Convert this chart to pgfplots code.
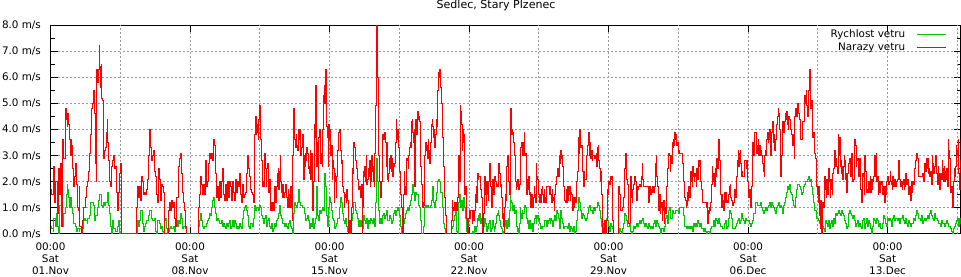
\documentclass[border=0pt]{standalone}
\usepackage{fontspec}
\setmainfont{DejaVu Sans}
\usepackage{pgfplots}
\pgfplotsset{compat=1.18}
\usepackage{pgfplotstable}
\definecolor{wgreen}{RGB}{0,200,0}
\definecolor{wred}{RGB}{255,0,0}

% x in chart units: 59.79 units = 1 day, 7.5 = Sat 01.Nov 00:00
\pgfplotstableread{
X v
8 1.7
12 1.5
16 2.6
20 1.2
24 2.0
28 0.8
32 2.5
36 1.5
38 2.7
42 0.3
45 3.6
48 2.9
52 4.8
55 4.4
58 4.1
60 4.6
63 4.2
66 3.6
68 3.0
70 3.6
72 3.4
75 2.5
78 1.8
80 2.2
84 2.7
86 1.9
88 1.0
92 0.9
94 1.8
96 0.3
100 0.0
104 0.5
108 1.0
112 1.4
115 1.8
118 2.0
122 2.4
124 3.1
127 3.8
130 3.9
132 4.8
134 5.0
137 5.5
140 4.6
142 2.7
145 2.0
147 6.3
150 5.8
152 6.3
154 7.2
156 6.4
158 5.6
160 6.5
162 5.2
164 5.1
166 3.6
168 2.9
170 3.2
172 3.3
175 3.9
178 4.4
180 3.5
182 2.8
185 2.0
188 1.8
190 2.6
193 2.8
196 3.0
200 2.5
203 2.6
206 1.6
209 0.9
212 1.6
215 2.3
218 2.7
220 0.0
262 0.0
266 1.0
268 1.8
271 1.4
274 1.8
277 1.3
280 2.2
283 2.0
286 1.5
289 1.6
292 1.5
296 1.7
298 2.1
300 3.0
304 4.0
306 3.3
309 2.8
312 3.0
315 3.2
318 2.4
321 2.2
324 1.5
327 1.2
330 2.5
333 2.1
336 1.3
339 1.9
342 1.8
345 1.6
348 0.4
350 0.0
358 0.0
361 0.9
364 1.2
367 0.9
370 1.3
373 1.0
376 1.2
379 0.6
382 0.3
385 1.4
388 1.4
391 2.6
394 2.9
397 3.1
400 2.3
403 1.6
406 1.2
409 0.9
412 0.3
414 0.0
448 0.0
450 1.0
453 1.5
456 2.2
459 1.9
462 1.5
465 1.9
468 1.5
471 2.8
474 1.8
477 2.0
480 2.7
483 3.1
486 2.9
489 3.1
492 2.8
495 3.6
498 3.4
501 2.3
504 1.4
507 1.8
510 1.3
513 2.0
516 1.4
519 2.0
522 2.5
525 1.5
528 1.3
531 1.9
534 1.3
537 2.0
540 1.4
543 2.0
546 1.8
549 1.3
552 2.0
555 1.6
558 1.3
561 2.1
564 1.6
567 2.0
570 1.8
573 2.3
576 1.5
579 1.2
582 1.9
585 1.4
588 1.5
591 1.6
594 2.3
597 3.0
600 2.5
603 2.2
606 1.7
609 1.6
612 1.5
615 1.2
618 2.2
620 3.8
622 4.5
624 3.8
626 4.2
628 3.9
630 3.6
632 4.4
634 4.9
636 4.5
638 3.6
640 2.8
642 1.8
644 2.0
646 1.8
648 3.0
650 3.1
652 2.5
654 1.8
656 2.5
658 2.7
660 2.2
662 1.6
664 2.1
666 1.5
668 0.9
670 1.2
672 0.9
674 1.2
676 0.9
678 1.5
680 1.8
682 1.2
684 1.6
686 1.8
688 2.3
690 2.5
692 1.7
694 2.4
696 3.0
698 2.0
700 1.6
702 1.4
704 1.9
706 1.4
708 1.5
710 1.6
712 1.9
714 1.7
716 1.4
718 1.0
720 1.7
722 1.5
724 1.0
726 1.7
728 1.8
730 1.0
732 0.5
734 3.0
736 4.8
738 4.3
740 3.6
742 3.3
744 3.8
746 3.4
748 3.2
750 4.0
752 3.6
754 4.0
756 3.8
758 3.0
760 3.3
762 3.5
764 3.8
766 2.1
768 3.0
770 2.6
772 3.1
774 2.8
776 3.3
778 3.1
780 2.5
782 2.6
784 2.3
786 3.2
788 2.1
790 3.1
792 1.7
794 0.9
796 2.0
798 4.2
800 3.7
802 5.7
804 4.0
806 2.6
808 3.5
810 2.0
812 3.7
814 4.0
816 3.3
818 2.7
820 3.1
822 2.6
824 4.0
826 5.3
828 5.7
830 5.0
832 6.3
834 5.2
836 4.1
838 3.7
840 2.6
842 4.2
844 3.6
846 4.0
848 3.0
850 3.4
852 2.1
854 2.8
856 2.5
858 1.2
860 2.3
862 2.0
864 1.4
866 2.2
868 3.2
870 3.7
872 3.9
874 4.0
876 3.6
878 3.2
880 2.7
882 2.8
884 1.8
886 1.6
888 1.0
890 1.5
892 1.4
894 1.2
896 1.7
898 1.3
900 0.3
902 0.0
904 0.5
906 0.2
908 0.0
910 1.0
912 2.5
914 2.3
916 3.5
918 3.3
921 2.8
924 2.5
927 2.1
930 1.7
933 1.8
936 1.4
939 1.9
942 0.0
944 1.0
946 2.4
948 2.2
950 2.6
952 2.0
954 3.0
956 1.9
958 2.1
960 2.5
962 2.2
964 2.8
966 1.8
968 2.0
970 3.0
972 2.4
974 2.6
976 2.0
978 1.8
980 3.1
982 4.9
984 6.6
986 8.0
988 6.0
990 5.0
992 3.0
994 2.0
996 1.7
998 1.4
1000 2.0
1002 3.5
1004 3.8
1006 3.6
1008 3.9
1010 3.9
1012 3.5
1014 2.6
1016 3.5
1018 2.1
1020 2.0
1022 2.3
1024 2.9
1026 2.5
1028 3.0
1030 2.4
1032 2.9
1034 2.2
1036 2.7
1038 2.6
1040 2.7
1042 3.5
1044 4.4
1046 3.6
1048 4.0
1050 3.8
1052 3.3
1054 2.4
1056 2.0
1058 1.5
1060 1.0
1062 0.9
1064 0.0
1066 1.5
1068 2.4
1070 1.8
1072 1.5
1074 2.5
1076 2.9
1078 2.8
1080 2.5
1082 3.0
1084 3.3
1086 3.5
1088 3.3
1090 4.3
1092 4.4
1094 3.9
1096 3.5
1098 4.0
1100 1.8
1102 4.4
1104 4.0
1106 3.8
1108 4.7
1110 4.4
1112 4.5
1114 4.3
1116 3.0
1118 2.6
1120 1.9
1122 1.5
1124 1.0
1126 1.2
1128 1.1
1130 3.0
1132 3.5
1134 3.2
1136 3.4
1138 2.9
1140 3.6
1142 3.2
1144 2.7
1146 2.9
1148 3.5
1150 4.2
1152 4.4
1154 4.1
1156 3.7
1158 4.0
1160 3.3
1162 3.8
1164 4.4
1166 4.1
1168 5.5
1170 6.2
1172 6.0
1174 6.3
1176 6.1
1178 5.6
1180 5.0
1182 4.4
1184 3.7
1186 2.6
1188 2.0
1190 1.4
1192 0.7
1194 0.3
1196 0.0
1208 0.0
1210 0.5
1212 1.3
1214 1.0
1216 0.9
1218 1.2
1220 0.9
1222 1.2
1224 1.2
1226 0.9
1228 1.4
1230 2.3
1232 3.0
1234 2.0
1236 4.9
1238 4.7
1240 4.2
1242 3.2
1244 4.0
1246 3.5
1248 3.8
1250 1.5
1252 1.8
1254 0.8
1256 0.6
1258 0.0
1260 0.2
1262 0.6
1264 0.9
1266 0.6
1268 0.9
1270 0.9
1272 0.4
1274 0.5
1276 0.9
1278 0.5
1280 0.9
1282 1.5
1284 1.8
1286 1.2
1288 2.3
1290 2.1
1292 2.2
1294 2.2
1296 2.2
1298 1.7
1300 1.4
1302 0.7
1304 0.0
1306 0.8
1308 1.5
1310 2.2
1312 1.5
1314 1.1
1316 2.0
1318 1.5
1320 1.3
1322 2.0
1324 2.7
1326 2.3
1328 1.8
1330 1.0
1332 1.5
1334 2.1
1336 1.5
1338 1.7
1340 2.2
1342 2.0
1344 1.8
1346 1.9
1348 1.8
1350 2.0
1352 2.7
1354 2.3
1356 1.8
1358 1.9
1360 1.4
1362 0.6
1364 0.8
1366 0.3
1368 0.0
1370 1.0
1372 1.5
1374 1.3
1376 2.6
1378 3.0
1380 2.4
1382 2.0
1384 1.5
1386 4.5
1388 4.8
1390 3.8
1392 4.0
1394 3.9
1396 3.5
1398 3.3
1400 3.0
1402 2.0
1404 1.7
1406 1.8
1408 2.1
1410 1.8
1412 1.7
1414 1.9
1416 3.0
1418 3.3
1420 3.5
1422 3.2
1424 3.0
1426 3.5
1428 3.9
1430 3.0
1432 3.1
1434 2.0
1436 1.5
1438 2.1
1440 1.7
1442 2.2
1444 1.5
1446 1.6
1448 1.0
1450 1.5
1452 1.3
1454 1.0
1456 1.4
1458 1.8
1460 1.5
1462 1.2
1464 2.7
1466 2.2
1468 2.1
1470 1.7
1472 1.5
1474 1.2
1476 1.5
1478 1.2
1480 1.7
1482 1.8
1484 1.5
1486 1.2
1488 1.7
1490 1.4
1492 1.2
1494 1.8
1496 1.8
1498 1.8
1500 1.8
1502 1.8
1504 1.5
1506 1.8
1508 1.5
1510 1.2
1512 1.7
1514 1.4
1516 1.3
1518 0.9
1520 1.5
1522 1.9
1524 2.2
1526 2.2
1528 2.5
1530 2.3
1532 2.2
1534 3.0
1536 2.7
1538 3.2
1540 2.9
1542 3.0
1544 2.6
1546 1.8
1548 1.5
1550 1.3
1552 1.2
1554 1.7
1556 1.2
1558 1.8
1560 1.3
1562 1.5
1564 1.8
1566 1.3
1568 1.6
1570 1.5
1572 1.0
1574 0.9
1576 1.4
1578 1.0
1580 1.4
1582 1.2
1584 1.7
1586 2.0
1588 2.4
1590 3.7
1592 3.1
1594 4.0
1596 3.5
1598 3.3
1600 3.4
1602 2.8
1604 2.4
1606 1.8
1608 2.4
1610 2.1
1612 2.1
1614 2.6
1616 3.0
1618 3.4
1620 3.7
1622 3.9
1624 3.0
1626 3.5
1628 2.9
1630 3.2
1632 2.8
1634 3.0
1636 3.0
1638 3.0
1640 2.9
1642 3.0
1644 3.1
1646 2.6
1648 3.3
1650 3.4
1652 2.8
1654 2.5
1656 2.0
1658 2.4
1660 1.5
1662 0.3
1664 0.0
1666 0.2
1668 0.0
1670 0.5
1672 0.0
1674 0.2
1676 0.5
1678 1.7
1680 1.5
1682 2.0
1684 1.9
1686 2.2
1688 2.1
1690 2.2
1692 1.5
1694 0.5
1696 0.0
1708 0.0
1710 0.4
1712 1.8
1714 1.5
1716 1.0
1718 0.9
1720 0.9
1722 0.9
1724 1.0
1726 1.4
1728 1.9
1730 2.5
1732 3.1
1734 2.7
1736 2.1
1738 1.9
1740 0.4
1742 0.4
1744 0.4
1746 1.4
1748 2.2
1750 1.4
1752 1.2
1754 1.7
1756 1.9
1758 2.1
1760 2.2
1762 2.0
1764 1.6
1766 1.3
1768 1.8
1770 1.7
1772 1.8
1774 1.9
1776 1.8
1778 1.8
1780 2.2
1782 2.7
1784 2.1
1786 1.8
1788 1.8
1790 1.8
1792 1.8
1794 1.8
1796 1.8
1798 1.8
1800 1.5
1802 1.2
1804 1.8
1806 1.6
1808 1.5
1810 1.7
1812 1.8
1814 1.6
1816 1.8
1818 1.6
1820 1.8
1822 2.7
1824 3.0
1826 2.2
1828 1.8
1830 1.2
1832 0.9
1834 1.5
1836 0.8
1838 1.0
1840 1.2
1842 0.5
1844 0.9
1846 1.3
1848 0.4
1850 1.0
1852 0.8
1854 1.5
1856 1.8
1858 2.5
1860 2.9
1862 3.1
1864 3.0
1866 2.4
1868 3.0
1870 2.7
1872 3.5
1874 3.3
1876 3.6
1878 3.4
1880 3.9
1882 3.6
1884 3.8
1886 3.4
1888 3.5
1890 3.1
1892 3.2
1894 3.1
1896 3.1
1898 3.1
1900 3.1
1902 3.0
1904 2.7
1906 2.0
1908 1.6
1910 1.4
1912 1.3
1914 1.0
1916 1.1
1918 1.6
1920 1.3
1922 1.8
1924 1.4
1926 1.7
1928 2.4
1930 2.0
1932 1.8
1934 2.6
1936 2.2
1938 2.0
1940 2.3
1942 2.2
1944 1.8
1946 2.5
1948 2.1
1950 2.8
1952 2.6
1954 2.8
1956 2.3
1958 2.0
1960 1.7
1962 1.2
1964 1.2
1966 1.2
1968 1.2
1970 1.2
1972 1.2
1974 1.0
1976 1.2
1978 0.4
1980 0.9
1982 0.8
1984 1.0
1986 0.9
1988 1.2
1990 1.9
1992 2.6
1994 2.0
1996 2.3
1998 2.2
2000 1.8
2002 2.5
2004 2.2
2006 2.9
2008 2.5
2010 3.1
2012 3.6
2014 2.8
2016 1.8
2018 1.5
2020 1.0
2022 1.5
2024 1.3
2026 0.9
2028 1.6
2030 1.2
2032 1.6
2034 1.3
2036 1.2
2038 1.3
2040 1.2
2042 1.5
2044 1.8
2046 1.9
2048 1.4
2050 1.3
2052 1.2
2054 1.1
2056 1.2
2058 1.6
2060 1.7
2062 1.4
2064 1.9
2066 2.2
2068 2.8
2070 3.2
2072 2.6
2074 3.1
2076 3.2
2078 2.7
2080 2.2
2082 2.4
2084 2.2
2086 2.2
2088 2.2
2090 2.8
2092 2.8
2094 2.5
2096 2.8
2098 2.0
2100 1.9
2102 1.4
2104 1.7
2106 1.3
2108 1.0
2110 1.8
2112 2.5
2114 3.5
2116 3.0
2118 3.5
2120 3.9
2122 3.9
2124 3.9
2126 3.1
2128 3.4
2130 3.6
2132 3.0
2134 3.4
2136 3.0
2138 3.2
2140 3.0
2142 2.7
2144 2.7
2146 2.4
2148 2.2
2150 3.0
2152 3.2
2154 3.0
2156 3.6
2158 3.9
2160 3.5
2162 3.6
2164 4.0
2166 3.3
2168 3.0
2170 3.9
2172 4.2
2174 4.3
2176 3.5
2178 3.8
2180 3.2
2182 3.6
2184 3.8
2186 4.2
2188 4.5
2190 4.8
2192 4.6
2194 4.0
2196 3.2
2198 2.2
2200 3.0
2202 3.7
2204 4.3
2206 3.9
2208 4.2
2210 4.3
2212 4.6
2214 4.4
2216 4.7
2218 4.2
2220 4.0
2222 4.5
2224 4.4
2226 4.4
2228 4.0
2230 3.8
2232 3.5
2234 3.4
2236 3.8
2238 2.9
2240 4.5
2242 4.8
2244 4.6
2246 4.5
2248 5.0
2250 4.8
2252 4.6
2254 4.4
2256 4.1
2258 3.6
2260 3.6
2262 3.9
2264 4.3
2266 4.3
2268 5.2
2270 5.3
2272 5.0
2274 5.5
2276 4.9
2278 4.5
2280 5.0
2282 5.5
2284 6.3
2286 5.5
2288 4.8
2290 5.1
2292 4.2
2294 3.7
2296 3.9
2298 3.4
2300 3.1
2302 2.9
2304 2.3
2306 1.8
2308 1.5
2310 1.2
2312 1.8
2314 0.7
2316 0.2
2318 1.3
2320 0.0
2322 0.8
2324 1.2
2326 1.0
2328 1.5
2330 2.2
2332 1.7
2334 1.4
2336 2.1
2338 1.5
2340 2.2
2342 2.5
2344 2.0
2346 1.4
2348 2.1
2350 1.7
2352 1.5
2354 2.3
2356 2.5
2358 2.8
2360 3.2
2362 2.6
2364 2.9
2366 2.6
2368 2.3
2370 3.8
2372 3.0
2374 3.7
2376 2.6
2378 2.8
2380 2.3
2382 2.6
2384 2.1
2386 2.6
2388 3.0
2390 2.8
2392 2.1
2394 2.3
2396 1.6
2398 2.3
2400 2.6
2402 2.7
2404 2.9
2406 2.5
2408 2.2
2410 3.1
2412 2.4
2414 2.0
2416 2.1
2418 2.3
2420 3.6
2422 3.4
2424 2.6
2426 2.8
2428 2.9
2430 2.5
2432 2.2
2434 2.9
2436 2.0
2438 1.7
2440 1.2
2442 1.7
2444 2.3
2446 2.2
2448 1.5
2450 3.0
2452 2.4
2454 2.0
2456 1.6
2458 1.7
2460 2.0
2462 1.6
2464 2.0
2466 2.2
2468 1.6
2470 2.1
2472 1.7
2474 2.0
2476 2.2
2478 2.7
2480 3.0
2482 2.2
2484 3.1
2486 2.0
2488 2.2
2490 1.5
2492 2.0
2494 1.6
2496 2.0
2498 1.9
2500 2.0
2502 2.0
2504 1.5
2506 1.8
2508 1.3
2510 1.2
2512 1.8
2514 1.5
2516 2.0
2518 2.2
2520 2.0
2522 1.9
2524 2.0
2526 2.4
2528 2.0
2530 1.9
2532 1.7
2534 2.2
2536 1.8
2538 1.9
2540 2.1
2542 1.8
2544 1.8
2546 2.0
2548 2.1
2550 2.2
2552 2.8
2554 2.1
2556 1.8
2558 1.8
2560 2.0
2562 1.7
2564 1.9
2566 2.1
2568 1.7
2570 1.8
2572 2.3
2574 2.1
2576 1.9
2578 2.1
2580 1.6
2582 1.5
2584 1.8
2586 1.6
2588 1.3
2590 2.0
2592 1.6
2594 2.0
2596 1.9
2598 2.2
2600 2.5
2602 2.8
2604 3.0
2606 3.1
2608 2.9
2610 2.5
2612 2.2
2614 2.2
2616 2.2
2618 2.2
2620 2.2
2622 2.2
2624 2.3
2626 2.0
2628 2.3
2630 2.7
2632 2.4
2634 2.9
2636 2.5
2638 2.9
2640 2.3
2642 2.5
2644 2.2
2646 2.3
2648 2.4
2650 1.9
2652 3.0
2654 2.7
2656 2.3
2658 2.4
2660 2.6
2662 3.0
2664 2.7
2666 2.3
2668 1.9
2670 2.6
2672 2.3
2674 1.7
2676 1.9
2678 2.3
2680 2.1
2682 2.8
2684 2.5
2686 2.0
2688 2.6
2690 2.0
2692 2.4
2694 2.1
2696 2.5
2698 1.8
2700 3.6
2702 3.2
2704 2.9
2706 2.1
2708 1.6
2710 1.8
2712 1.2
2714 1.0
2716 2.0
2718 2.5
2720 2.2
2722 2.6
2724 3.4
2726 3.2
2728 3.0
2730 3.6
2732 2.3
2734 1.7
2736 2.8
2738 2.5
}\gusts

\pgfplotstableread{
X v
8 0.3
12 0.2
16 0.1
18 0.6
22 0.3
26 0.8
28 0.3
32 0.0
36 1.1
40 1.0
43 0.3
46 0.8
50 0.8
52 1.0
55 1.5
58 1.9
60 1.7
62 1.4
65 1.0
68 1.4
70 1.4
72 1.0
75 0.8
78 0.4
80 0.4
84 0.3
86 0.1
90 0.2
94 0.1
96 0.2
100 0.0
104 0.2
108 0.5
110 0.6
114 0.5
118 0.4
120 0.6
124 0.7
128 1.2
132 1.2
136 1.1
140 0.5
144 0.7
148 1.0
152 1.3
156 1.5
160 1.1
164 1.0
167 1.2
170 1.1
174 1.2
178 1.6
182 1.1
185 0.8
188 0.3
190 0.0
194 0.5
197 0.2
200 0.2
204 0.1
208 0.3
212 0.5
214 0.0
218 0.1
222 0.0
266 0.0
270 0.5
273 0.3
276 0.5
279 0.9
282 0.9
284 0.4
286 0.1
290 0.3
294 0.4
297 0.5
300 0.5
302 0.7
304 0.9
306 0.9
309 0.6
312 0.5
315 0.5
318 0.6
321 0.1
324 0.0
327 0.5
330 0.5
333 0.4
336 0.2
339 0.3
342 0.1
345 0.0
348 0.5
351 0.6
354 0.2
357 0.0
361 0.1
364 0.2
367 0.3
370 0.2
373 0.2
376 0.3
379 0.1
382 0.3
385 0.5
388 0.3
391 0.5
394 0.4
397 0.8
400 0.6
403 0.2
406 0.3
409 0.3
412 0.2
414 0.0
449 0.0
452 0.3
455 0.5
458 0.8
461 0.5
464 0.3
467 0.2
470 0.3
473 0.3
476 0.4
479 0.5
482 0.6
485 0.8
488 0.7
491 1.0
494 1.3
497 1.4
500 1.0
503 0.8
506 0.5
509 0.6
512 0.5
515 0.4
518 0.4
521 0.5
524 0.3
527 0.4
530 0.3
533 0.2
536 0.4
539 0.3
542 0.4
545 0.5
548 0.2
551 0.3
554 0.5
557 0.3
560 0.5
563 0.4
566 0.2
569 0.3
572 0.2
575 0.4
578 0.3
581 0.2
584 0.6
587 0.9
590 1.0
593 1.1
596 0.9
599 0.7
602 0.3
605 0.2
608 0.4
612 0.3
615 0.6
618 1.1
621 0.9
624 1.0
627 1.0
630 0.9
633 1.1
636 1.0
639 0.7
642 0.6
645 0.4
648 0.6
651 0.7
654 0.3
657 0.5
660 0.6
663 0.3
666 0.2
669 0.4
672 0.1
675 0.2
678 0.4
681 0.3
684 0.5
687 0.6
690 0.8
693 1.1
696 0.7
699 0.6
702 0.4
705 0.4
708 0.3
711 0.4
714 0.3
717 0.2
720 0.4
723 0.5
726 0.3
729 0.2
732 0.0
735 0.8
738 1.2
741 1.1
744 1.0
747 1.2
750 1.7
753 1.2
756 1.1
759 1.1
762 1.0
765 1.0
768 0.8
771 0.5
774 0.6
777 0.7
780 0.5
783 0.2
786 0.4
789 0.3
792 0.6
795 0.2
798 0.4
801 0.6
804 1.8
807 0.7
810 0.5
813 0.9
816 0.8
819 0.9
822 1.0
825 0.9
828 1.3
830 2.3
833 1.8
836 0.7
839 0.3
842 1.0
845 1.4
848 1.2
851 0.9
854 0.6
857 0.5
860 0.2
863 0.3
866 0.4
869 0.6
872 0.6
875 1.0
878 1.4
881 1.2
884 0.8
887 0.5
890 0.4
893 0.6
896 0.3
899 0.1
902 0.1
905 0.0
908 0.2
911 0.5
914 0.8
917 1.2
918 1.2
921 0.9
924 0.8
927 0.6
930 0.3
933 0.5
936 0.3
939 0.5
942 0.2
945 0.7
948 0.5
951 0.4
954 0.6
957 0.2
960 0.5
963 0.4
966 0.6
969 0.5
972 0.4
975 0.6
978 0.3
981 1.2
984 2.3
986 2.9
988 2.0
990 1.6
992 0.9
995 0.4
998 0.6
1001 0.4
1004 0.7
1007 0.8
1010 0.6
1013 0.7
1016 0.9
1019 0.5
1022 0.5
1025 0.7
1028 0.6
1031 0.4
1034 0.5
1037 0.8
1040 0.9
1043 0.7
1046 0.9
1049 1.0
1052 0.9
1055 0.7
1058 0.3
1061 0.0
1064 0.0
1067 0.4
1070 0.6
1073 0.8
1076 0.9
1079 1.0
1082 0.9
1085 1.1
1088 1.3
1091 1.5
1094 1.9
1097 1.6
1100 1.3
1103 1.6
1106 1.5
1109 1.5
1112 1.1
1115 1.0
1118 0.5
1121 0.0
1124 0.0
1127 0.3
1130 1.0
1133 1.1
1136 1.0
1139 1.1
1142 1.0
1145 1.0
1148 1.1
1151 1.3
1154 1.8
1157 1.2
1160 1.0
1163 1.3
1166 1.6
1169 2.0
1172 2.1
1175 2.0
1178 1.6
1181 1.6
1184 1.0
1187 0.4
1190 0.2
1193 0.0
1208 0.0
1211 0.2
1214 0.3
1217 0.5
1220 0.7
1223 0.9
1224 0.5
1226 0.1
1228 0.0
1230 0.6
1232 1.2
1234 1.5
1236 1.2
1238 1.0
1240 1.3
1242 1.0
1244 0.9
1246 1.4
1248 1.3
1250 1.0
1252 0.6
1254 0.3
1256 0.1
1258 0.0
1270 0.0
1272 0.1
1274 0.1
1276 0.0
1278 0.1
1280 0.3
1282 0.1
1284 0.2
1286 0.3
1288 0.6
1290 0.7
1292 0.5
1294 0.8
1296 0.4
1298 0.6
1300 0.4
1302 0.1
1304 0.0
1306 0.3
1308 0.4
1310 0.6
1312 0.4
1314 0.2
1316 0.1
1318 0.3
1320 0.2
1322 0.4
1324 0.5
1326 0.3
1328 0.1
1330 0.2
1332 0.3
1334 0.5
1336 0.3
1338 0.1
1340 0.2
1342 0.4
1344 0.6
1346 0.7
1348 0.8
1350 0.9
1352 0.7
1354 0.5
1356 0.5
1358 0.3
1360 0.2
1362 0.1
1364 0.0
1366 0.1
1368 0.0
1370 0.3
1372 0.5
1374 0.3
1376 0.2
1378 0.5
1380 0.6
1382 0.3
1384 0.9
1386 1.5
1388 1.3
1390 1.2
1392 1.1
1394 0.9
1396 1.1
1398 1.0
1400 0.8
1402 0.9
1404 0.5
1406 0.3
1408 0.1
1410 0.2
1412 0.0
1414 0.4
1416 1.0
1418 0.8
1420 0.6
1422 0.9
1424 0.8
1426 0.8
1428 1.0
1430 1.1
1432 1.0
1434 0.8
1436 0.6
1438 0.4
1440 0.5
1442 0.2
1444 0.5
1446 0.3
1448 0.2
1450 0.4
1452 0.3
1454 0.1
1456 0.4
1458 0.5
1460 0.6
1462 0.7
1464 0.4
1466 0.6
1468 0.7
1470 0.5
1472 0.6
1474 0.4
1476 0.3
1478 0.2
1480 0.3
1482 0.2
1484 0.3
1486 0.3
1488 0.4
1490 0.5
1492 0.5
1494 0.4
1496 0.3
1498 0.5
1500 0.4
1502 0.5
1504 0.6
1506 0.4
1508 0.6
1510 0.5
1512 0.4
1514 0.3
1516 0.5
1518 0.6
1520 0.7
1522 0.5
1524 0.7
1526 0.9
1528 0.8
1530 0.6
1533 0.2
1536 0.9
1539 0.6
1542 0.4
1545 0.2
1548 0.3
1551 0.3
1554 0.3
1557 0.2
1560 0.4
1563 0.1
1566 0.3
1569 0.2
1572 0.1
1575 0.3
1578 0.0
1581 0.1
1584 0.5
1587 0.9
1590 1.4
1593 1.2
1596 0.9
1599 0.6
1602 0.8
1605 0.7
1608 0.6
1611 0.5
1614 0.6
1617 0.8
1620 1.0
1623 1.1
1626 0.9
1629 0.9
1632 0.8
1635 1.0
1638 0.9
1641 1.0
1644 1.0
1647 1.2
1650 1.1
1653 0.9
1656 0.6
1659 0.3
1662 0.2
1665 0.4
1668 0.3
1671 0.1
1674 0.6
1677 0.5
1680 0.3
1683 0.1
1686 0.4
1689 0.3
1692 0.2
1695 0.0
1713 0.2
1716 0.1
1719 0.0
1722 0.2
1725 0.4
1728 0.8
1731 0.7
1734 0.5
1737 0.3
1740 0.3
1743 0.4
1746 0.1
1749 0.0
1752 0.1
1755 0.3
1758 0.2
1761 0.3
1764 0.4
1767 0.3
1770 0.4
1773 0.5
1776 0.4
1779 0.5
1782 0.6
1785 0.4
1788 0.3
1791 0.4
1794 0.3
1797 0.2
1800 0.4
1803 0.3
1806 0.2
1809 0.3
1812 0.2
1815 0.4
1818 0.5
1821 0.3
1824 0.5
1827 0.4
1830 0.3
1833 0.2
1836 0.0
1839 0.2
1842 0.2
1845 0.1
1848 0.3
1851 0.6
1854 0.7
1857 0.4
1860 0.9
1863 1.0
1866 0.6
1869 0.6
1872 0.9
1875 0.8
1878 0.8
1881 0.9
1884 0.9
1887 0.9
1890 0.8
1893 1.0
1896 1.0
1899 1.0
1902 1.0
1905 0.7
1908 0.3
1911 0.3
1914 0.2
1917 0.3
1920 0.2
1923 0.3
1926 0.2
1929 0.3
1932 0.1
1935 0.4
1938 0.3
1941 0.4
1944 0.3
1947 0.5
1950 0.4
1953 0.3
1956 0.4
1959 0.2
1962 0.2
1965 0.1
1968 0.2
1971 0.1
1974 0.0
1977 0.1
1980 0.1
1983 0.0
1986 0.2
1989 0.3
1992 0.3
1995 0.5
1998 0.3
2001 0.6
2004 0.5
2007 0.4
2010 0.6
2013 0.4
2016 0.3
2019 0.3
2022 0.2
2025 0.2
2028 0.4
2031 0.5
2034 0.2
2037 0.3
2040 0.6
2043 0.9
2046 0.8
2049 0.6
2052 0.2
2055 0.2
2058 0.2
2061 0.3
2064 0.4
2067 0.5
2070 0.6
2073 0.4
2076 0.5
2079 0.8
2082 0.6
2085 0.5
2088 0.4
2091 0.6
2094 0.5
2097 0.5
2100 0.5
2103 0.4
2106 0.3
2109 0.4
2112 0.5
2115 0.8
2118 0.8
2121 1.2
2124 1.2
2127 1.1
2130 1.1
2133 1.1
2136 1.2
2139 1.0
2142 0.9
2145 0.8
2148 0.9
2151 1.0
2154 0.9
2157 1.0
2160 1.1
2163 1.2
2166 1.0
2169 1.2
2172 1.1
2175 1.0
2178 0.9
2181 0.8
2184 1.0
2187 1.1
2190 1.2
2193 1.0
2196 1.1
2199 1.0
2202 0.8
2205 1.1
2208 1.2
2211 1.4
2214 1.6
2217 1.8
2220 1.7
2223 1.9
2226 1.6
2229 1.5
2232 1.3
2235 1.1
2238 1.0
2241 1.4
2244 1.7
2247 1.9
2250 1.9
2253 1.8
2256 1.7
2259 1.5
2262 1.6
2265 1.8
2268 1.9
2271 2.0
2274 2.0
2277 2.1
2280 2.2
2283 2.0
2286 2.1
2289 1.8
2292 1.5
2295 1.2
2298 0.9
2301 0.9
2304 0.6
2307 0.6
2310 0.5
2313 0.4
2316 0.3
2319 0.0
2322 0.3
2325 0.2
2328 0.1
2331 0.5
2334 0.4
2337 0.3
2340 0.5
2343 0.2
2346 0.4
2349 0.5
2352 0.3
2355 0.6
2358 0.4
2361 0.8
2364 0.7
2367 0.8
2370 0.9
2373 0.8
2376 0.7
2379 0.9
2382 0.8
2385 0.7
2388 0.5
2391 0.4
2394 0.2
2397 0.3
2400 0.8
2403 0.9
2406 0.8
2409 0.7
2412 0.6
2415 0.7
2418 0.5
2421 0.3
2424 0.4
2427 0.5
2430 0.3
2433 0.4
2436 0.3
2439 0.2
2442 0.5
2445 0.6
2448 0.2
2451 0.4
2454 0.6
2457 0.3
2460 0.5
2463 0.4
2466 0.2
2469 0.0
2472 0.3
2475 0.6
2478 0.5
2481 0.4
2484 0.6
2487 0.5
2490 0.3
2493 0.4
2496 0.2
2499 0.2
2502 0.4
2505 0.7
2508 0.6
2511 0.4
2514 0.3
2517 0.6
2520 0.5
2523 0.6
2526 0.5
2529 0.3
2532 0.6
2535 0.7
2538 0.5
2541 0.6
2544 0.6
2547 0.5
2550 0.6
2553 0.4
2556 0.6
2559 0.6
2562 0.7
2565 0.5
2568 0.4
2571 0.6
2574 0.4
2577 0.3
2580 0.5
2583 0.4
2586 0.3
2589 0.4
2592 0.4
2595 0.6
2598 0.5
2601 0.7
2604 0.9
2607 0.8
2610 0.6
2613 0.6
2616 0.5
2619 0.7
2622 0.4
2625 0.5
2628 0.6
2631 0.5
2634 0.6
2637 0.7
2640 0.6
2643 0.8
2646 0.9
2649 0.7
2652 0.6
2655 0.5
2658 0.8
2661 0.6
2664 0.6
2667 0.5
2670 0.4
2673 0.4
2676 0.3
2679 0.5
2682 0.4
2685 0.4
2688 0.3
2691 0.4
2694 0.5
2697 0.4
2700 0.3
2703 0.3
2706 0.2
2709 0.1
2712 0.0
2715 0.2
2718 0.3
2721 0.4
2724 0.5
2727 0.6
2730 0.3
2733 0.6
2736 0.5
2738 0.4
}\speed

\begin{document}
\begin{tikzpicture}
\useasboundingbox (-37.875pt,-32.25pt) rectangle (682.875pt,175.5pt);
\begin{axis}[
  at={(0pt,0pt)}, anchor=south west,
  scale only axis, width=682.5pt, height=156.75pt,
  xmin=7.5, xmax=2737.5, ymin=0, ymax=8,
  axis line style={line width=0.75pt, black},
  xtick={7.5,426.0,844.6,1263.1,1681.6,2100.2,2518.7},
  xticklabels={{00:00\\Sat\\01.Nov},{00:00\\Sat\\08.Nov},{00:00\\Sat\\15.Nov},{00:00\\Sat\\22.Nov},{00:00\\Sat\\29.Nov},{00:00\\Sat\\06.Dec},{00:00\\Sat\\13.Dec}},
  extra x ticks={216.8,635.3,1053.8,1472.4,1890.9,2309.4,2727.9},
  extra x tick labels={},
  extra x tick style={major tick length=0pt, xmajorgrids=true},
  ytick={0,1,2,3,4,5,6,7,8},
  yticklabels={0.0 m/s,1.0 m/s,2.0 m/s,3.0 m/s,4.0 m/s,5.0 m/s,6.0 m/s,7.0 m/s,8.0 m/s},
  minor y tick num=1,
  tick align=inside,
  major tick length=5.25pt, minor tick length=3pt,
  tick style={black, line width=0.75pt},
  xmajorgrids, ymajorgrids,
  grid style={gray!80, line width=0.75pt, dash pattern=on 1.5pt off 1.5pt},
  xticklabel style={align=center, anchor=north, inner sep=0pt, yshift=-6.5pt, font=\fontsize{7.8}{9}\selectfont},
  yticklabel style={anchor=east, inner sep=0pt, xshift=-7pt, font=\fontsize{7.8}{9}\selectfont},
  title={Sedlec, Stary Plzenec},
  title style={at={(0.4896,1)}, anchor=base, yshift=6.5pt, inner sep=0pt, font=\fontsize{8.3}{10}\selectfont},
  legend cell align=right,
  legend plot pos=right,
  legend image code/.code={\draw[#1] (0pt,0pt) -- (21.75pt,0pt);},
  legend style={draw=none, fill=none, at={(1,1)}, anchor=north east,
    xshift=-10.1pt, yshift=-3.4pt, inner xsep=0pt, inner ysep=0pt,
    nodes={inner sep=0pt, text height=5.6pt, text depth=1.6pt},
    row sep=2.55pt, column sep=8.25pt, font=\fontsize{7.8}{9}\selectfont},
]
\addlegendimage{color=wgreen, draw=wgreen, line width=1.1pt}
\addlegendentry{Rychlost vetru}
\addlegendimage{color=wred, draw=wred, line width=1.1pt}
\addlegendentry{Narazy vetru}
\addplot[const plot, color=wgreen, line width=0.75pt, forget plot] table[x=X, y=v] {\speed};
\addplot[const plot, color=wred, line width=0.75pt, forget plot] table[x=X, y=v] {\gusts};
\end{axis}
\end{tikzpicture}
\end{document}
